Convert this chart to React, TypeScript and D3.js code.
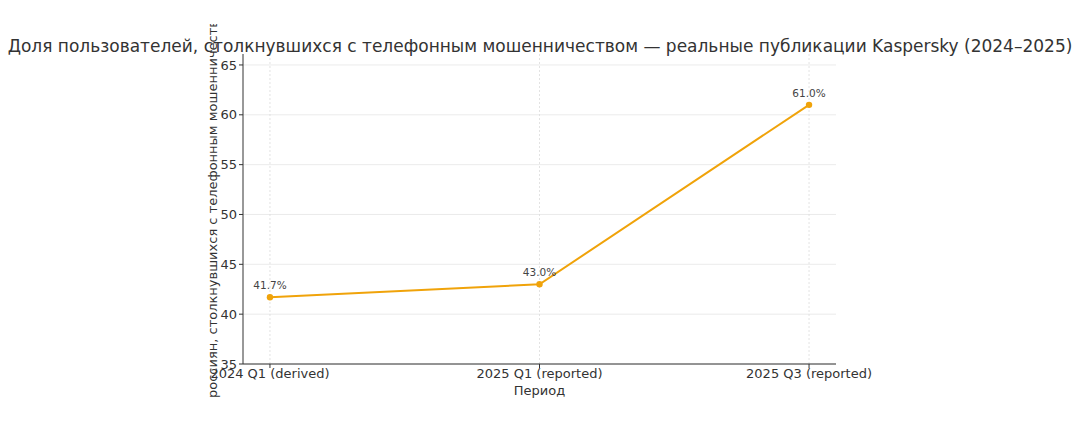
import React from "react";
import * as d3 from "d3";

const categories = ["2024 Q1 (derived)", "2025 Q1 (reported)", "2025 Q3 (reported)"];
const values = [41.7, 43.0, 61.0];
const yTicks = [35, 40, 45, 50, 55, 60, 65];
const title = "Доля пользователей, столкнувшихся с телефонным мошенничеством — реальные публикации Kaspersky (2024–2025)";
const yLabel = "россиян, столкнувшихся с телефонным мошенничеством";
const xLabel = "Период";

const W = 1080, H = 423;
const left = 243, right = 836, top = 54, bottom = 364;
const FONT = "DejaVu Sans, sans-serif";
const COLOR = "#F0A30A";

export default function App() {
  const x = d3.scaleLinear().domain([-0.1, 2.1]).range([left, right]);
  const y = d3.scaleLinear().domain([35, 66.1]).range([bottom, top]);
  const line = d3.line<number>().x((_, i) => x(i)).y((d) => y(d));
  return (
    <svg width={W} height={H} style={{ position: "absolute", left: 0, top: 0, background: "#fff" }} fontFamily={FONT}>
      <defs>
        <clipPath id="ylab">
          <rect x={190} y={24} width={40} height={380} />
        </clipPath>
      </defs>
      <rect width={W} height={H} fill="#fff" />
      {/* grid */}
      {yTicks.map((t) => (
        <line key={"gy" + t} x1={left} x2={right} y1={y(t)} y2={y(t)} stroke="#e6e6e6" strokeWidth={0.8} />
      ))}
      {categories.map((c, i) => (
        <line key={"gx" + i} x1={x(i)} x2={x(i)} y1={top} y2={bottom} stroke="#dcdcdc" strokeWidth={0.8} strokeDasharray="2,2" />
      ))}
      {/* spines */}
      <line x1={left} x2={left} y1={top} y2={bottom} stroke="#333" strokeWidth={1} />
      <line x1={left} x2={right} y1={bottom} y2={bottom} stroke="#333" strokeWidth={1} />
      {/* y ticks */}
      {yTicks.map((t) => (
        <g key={"ty" + t}>
          <line x1={left - 4} x2={left} y1={y(t)} y2={y(t)} stroke="#333" />
          <text x={left - 6} y={y(t)} dy="0.35em" textAnchor="end" fontSize={13} fill="#333">{t}</text>
        </g>
      ))}
      {/* x ticks */}
      {categories.map((c, i) => (
        <g key={"tx" + i}>
          <line x1={x(i)} x2={x(i)} y1={bottom} y2={bottom + 4} stroke="#333" />
          <text x={x(i)} y={bottom + 14} textAnchor="middle" fontSize={13} fill="#333">{c}</text>
        </g>
      ))}
      <text x={(left + right) / 2} y={395} textAnchor="middle" fontSize={13} fill="#333">{xLabel}</text>
      <g clipPath="url(#ylab)">
        <text transform={`translate(217,398) rotate(-90)`} textAnchor="start" fontSize={13} fill="#333">{yLabel}</text>
      </g>
      {/* line */}
      <path d={line(values) || ""} fill="none" stroke={COLOR} strokeWidth={2} />
      {values.map((v, i) => (
        <g key={"p" + i}>
          <circle cx={x(i)} cy={y(v)} r={3.2} fill={COLOR} />
          <text x={x(i)} y={y(v) - 8} textAnchor="middle" fontSize={10.5} fill="#444">{v.toFixed(1) + "%"}</text>
        </g>
      ))}
      <text x={W / 2} y={52} textAnchor="middle" fontSize={17} fill="#333">{title}</text>
    </svg>
  );
}
